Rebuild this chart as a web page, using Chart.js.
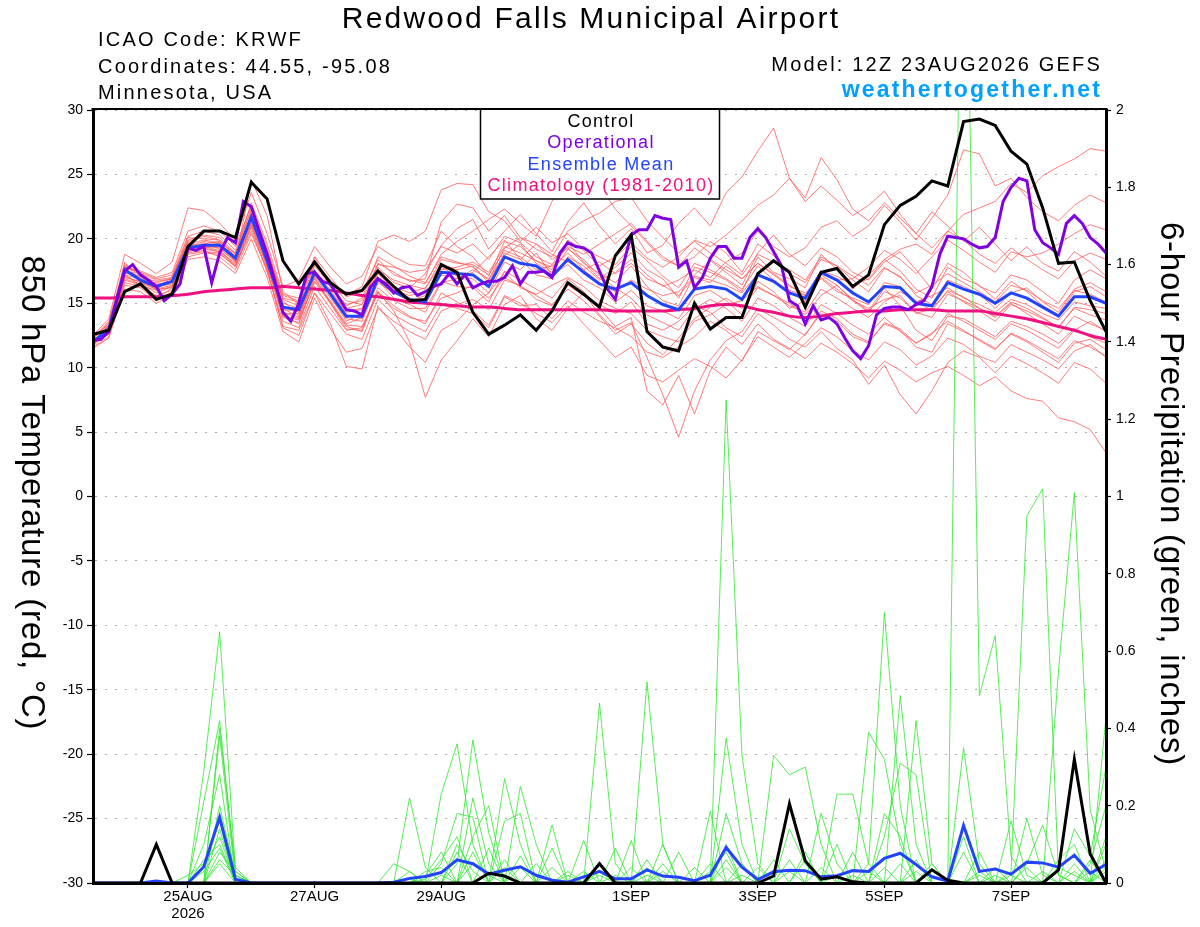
<!DOCTYPE html>
<html>
<head>
<meta charset="utf-8">
<title>Redwood Falls Municipal Airport - GEFS 850 hPa temperature</title>
<script src="https://cdn.jsdelivr.net/npm/chart.js@4.4.1/dist/chart.umd.min.js"></script>
<style>
  html, body { margin: 0; padding: 0; background: #fff; }
  #wrap { width: 1200px; height: 927px; }
</style>
</head>
<body>
<div id="wrap"><canvas id="chart" width="1200" height="927" style="width:1200px;height:927px"></canvas></div>
<script>
const FONT = "'Liberation Sans', Arial, Helvetica, sans-serif";

// x axis is hours since 12Z 23AUG2026
const dayTickHours = [36, 84, 132, 204, 252, 300, 348];
const dayTickLabels = [["25AUG", "2026"], "27AUG", "29AUG", "1SEP", "3SEP", "5SEP", "7SEP"];

// 6-hourly, 850 hPa temperature (C)
const controlTemp = [
  12.6, 12.9, 15.9, 16.5, 15.3, 15.7, 19.4, 20.6, 20.6, 20.1, 24.4, 23.1,
  18.3, 16.5, 18.2, 16.6, 15.7, 16.0, 17.5, 16.3, 15.2, 15.3, 18.0, 17.4,
  14.3, 12.6, 13.3, 14.1, 12.9, 14.4, 16.6, 15.7, 14.7, 18.7, 20.3, 12.8,
  11.6, 11.3, 15.0, 13.0, 13.9, 13.9, 17.3, 18.3, 17.4, 14.7, 17.4, 17.7,
  16.3, 17.2, 21.1, 22.6, 23.3, 24.5, 24.1, 29.1, 29.3, 28.8, 26.8, 25.8,
  22.4, 18.1, 18.2, 15.2, 12.8
];

// operational run is 3-hourly
const operationalTemp = [
  12.1, 12.2, 12.8, 15.2, 17.5, 18.0, 17.2, 16.8, 16.3, 15.2, 15.7, 16.5,
  19.3, 19.1, 19.4, 16.6, 18.9, 20.1, 19.7, 22.9, 22.5, 20.6, 18.8, 16.7,
  14.3, 13.6, 15.0, 17.3, 17.4, 16.7, 16.5, 15.5, 14.5, 14.4, 14.1, 16.2,
  16.9, 16.5, 15.8, 16.2, 16.3, 15.6, 15.9, 16.3, 16.5, 17.3, 16.5, 17.2,
  16.2, 16.5, 16.7, 16.7, 17.0, 17.9, 16.5, 17.4, 17.4, 17.5, 17.0, 18.9,
  19.7, 19.4, 19.3, 18.9, 17.5, 16.1, 15.3, 18.0, 20.3, 20.7, 20.7, 21.8,
  21.6, 21.5, 17.8, 18.3, 16.2, 17.0, 18.5, 19.4, 19.4, 18.5, 18.5, 20.1,
  20.8, 20.1, 19.0, 17.9, 15.2, 14.8, 13.4, 14.8, 13.7, 13.9, 13.4, 12.3,
  11.3, 10.7, 11.7, 14.1, 14.6, 14.7, 14.7, 14.5, 14.9, 15.2, 16.3, 18.8,
  20.2, 20.1, 20.0, 19.6, 19.3, 19.4, 20.1, 22.9, 24.0, 24.7, 24.5, 20.7,
  19.7, 19.3, 18.8, 21.2, 21.8, 21.2, 20.1, 19.6, 18.9
];

const meanTemp = [
  12.0, 13.0, 17.6, 16.8, 16.3, 16.7, 19.3, 19.5, 19.5, 18.5, 21.7, 18.3,
  14.7, 14.5, 17.4, 15.7, 14.0, 14.0, 16.9, 15.9, 15.3, 15.1, 17.4, 17.3,
  17.2, 16.3, 18.6, 18.1, 17.9, 17.1, 18.4, 17.4, 16.5, 16.1, 16.6, 15.6,
  14.9, 14.5, 16.1, 16.3, 16.1, 15.3, 17.2, 16.7, 15.8, 15.4, 17.4, 16.8,
  15.8, 15.1, 16.3, 16.2, 15.0, 14.8, 16.6, 16.1, 15.7, 15.0, 15.8, 15.4,
  14.7, 14.0, 15.5, 15.5, 15.0
];

const climoTemp = [
  15.4, 15.4, 15.5, 15.5, 15.5, 15.6, 15.7, 15.9, 16.0, 16.1, 16.2, 16.2,
  16.3, 16.2, 16.1, 16.0, 15.8, 15.6, 15.5, 15.3, 15.1, 15.0, 14.9, 14.8,
  14.7, 14.7, 14.6, 14.5, 14.5, 14.5, 14.5, 14.5, 14.5, 14.4, 14.4, 14.4,
  14.4, 14.5, 14.6, 14.8, 14.9, 14.8, 14.5, 14.3, 14.0, 13.9, 14.0, 14.2,
  14.3, 14.4, 14.4, 14.5, 14.5, 14.5, 14.4, 14.4, 14.4, 14.2, 14.0, 13.8,
  13.5, 13.2, 12.9, 12.5, 12.2
];

// ensemble members, 850 hPa temperature
const tm01 = [
  12.2, 13.5, 17.9, 17.2, 16.0, 17.1, 19.8, 20.2, 19.9, 18.8, 22.4, 19.0,
  15.2, 14.0, 17.9, 16.4, 14.6, 14.9, 17.8, 16.6, 16.2, 17.3, 19.5, 20.8,
  21.5, 19.2, 20.6, 21.9, 20.4, 19.0, 21.3, 22.8, 21.0, 19.6, 20.8, 18.9,
  19.5, 21.2, 22.4, 21.0, 23.6, 24.8, 26.8, 28.6, 24.7, 22.9, 24.1, 23.0,
  21.8, 22.6, 23.7, 21.9, 20.4, 22.1, 21.0, 19.8, 20.9, 19.6, 18.3, 19.4,
  18.1, 17.5, 19.0, 18.2, 17.1
];
const tm02 = [
  12.0, 12.6, 16.8, 16.4, 15.4, 16.2, 19.0, 19.3, 19.0, 17.9, 20.6, 17.6,
  13.2, 12.9, 15.8, 14.2, 12.6, 12.2, 15.3, 14.1, 13.4, 12.8, 14.9, 14.6,
  14.2, 13.1, 15.5, 14.8, 14.9, 13.8, 15.2, 14.3, 13.6, 13.1, 12.4, 11.2,
  10.8, 11.6, 12.4, 13.6, 12.9, 11.8, 13.4, 12.2, 11.5, 10.7, 11.9, 11.2,
  10.3, 9.2, 10.5, 9.8, 8.9, 9.6, 10.1, 9.4, 8.6, 9.3, 8.2, 7.6,
  7.4, 6.1, 5.8, 5.2, 3.4
];
const tm03 = [
  11.8, 12.9, 17.2, 16.9, 16.5, 16.6, 19.4, 19.8, 19.6, 18.6, 21.9, 18.8,
  14.6, 13.9, 17.0, 15.1, 13.2, 12.8, 15.9, 14.4, 12.0, 7.7, 10.6, 12.1,
  13.8, 12.4, 14.9, 15.6, 13.8, 12.9, 14.6, 15.8, 14.1, 12.9, 13.5, 10.8,
  7.9, 4.6, 8.2, 10.6, 12.1, 12.8, 14.6, 13.9, 13.2, 12.5, 14.4, 13.8,
  12.6, 12.0, 13.4, 12.9, 11.6, 11.2, 13.4, 12.8, 12.2, 11.5, 12.6, 12.0,
  11.2, 10.4, 11.9, 12.2, 11.4
];
const tm04 = [
  12.3, 13.2, 17.6, 17.0, 16.7, 16.9, 19.9, 20.3, 20.1, 18.9, 22.8, 19.6,
  15.7, 15.4, 18.6, 17.0, 15.5, 15.9, 18.4, 17.2, 16.8, 16.5, 18.8, 19.8,
  20.6, 21.5, 22.3, 21.2, 20.2, 22.9, 24.8, 26.5, 24.1, 22.3, 21.0, 19.7,
  18.4, 17.9, 18.6, 19.8, 18.9, 17.4, 19.6, 18.7, 17.3, 16.6, 18.4, 17.9,
  16.8, 15.9, 17.7, 17.1, 15.6, 14.9, 16.8, 16.3, 15.7, 14.6, 15.8, 16.2,
  15.1, 14.3, 16.1, 16.6, 15.9
];
const tm05 = [
  11.6, 12.4, 16.4, 16.2, 15.2, 15.9, 18.9, 19.1, 18.6, 17.6, 20.4, 17.6,
  13.1, 12.5, 15.8, 13.4, 10.1, 9.9, 14.8, 13.2, 11.6, 10.4, 12.9, 13.6,
  14.9, 15.8, 17.4, 16.2, 15.7, 16.4, 17.0, 16.3, 15.2, 14.6, 14.2, 12.9,
  12.4, 12.0, 13.6, 14.1, 14.9, 15.2, 16.3, 15.6, 15.0, 14.1, 15.6, 16.4,
  15.2, 14.6, 15.3, 15.6, 14.2, 14.6, 15.9, 15.1, 14.4, 13.6, 14.9, 14.4,
  13.8, 13.2, 14.6, 14.1, 13.7
];
const tm06 = [
  12.5, 13.8, 18.8, 18.1, 17.3, 18.2, 22.4, 22.2, 21.2, 19.9, 23.6, 20.4,
  16.3, 16.8, 19.4, 17.8, 16.5, 17.1, 19.4, 18.6, 18.0, 17.9, 20.6, 19.4,
  18.6, 17.1, 19.8, 19.4, 18.3, 17.6, 19.7, 18.2, 16.9, 17.8, 18.9, 17.6,
  16.9, 15.4, 17.8, 17.4, 16.8, 15.9, 18.6, 17.4, 16.9, 16.2, 18.8, 17.6,
  16.1, 17.2, 18.4, 17.5, 16.1, 15.4, 17.8, 16.9, 16.4, 15.3, 16.7, 15.9,
  14.8, 14.1, 15.9, 16.3, 15.5
];
const tm07 = [
  12.1, 13.1, 18.2, 16.6, 16.1, 16.4, 19.1, 19.6, 19.8, 18.2, 24.6, 21.8,
  15.9, 14.9, 18.6, 16.2, 14.9, 15.2, 18.1, 17.4, 16.7, 16.9, 21.3, 22.7,
  22.4, 20.6, 21.8, 20.1, 19.6, 18.4, 19.3, 18.1, 17.3, 16.6, 17.9, 16.3,
  15.2, 14.8, 17.2, 18.3, 17.4, 16.4, 18.9, 20.3, 18.8, 17.9, 19.3, 18.6,
  17.4, 16.8, 18.2, 19.0, 17.6, 16.1, 18.1, 17.4, 16.3, 15.8, 17.2, 16.8,
  15.9, 15.0, 16.8, 17.6, 16.9
];
const tm08 = [
  11.9, 12.8, 17.4, 16.9, 16.4, 16.8, 19.5, 19.3, 19.4, 18.4, 21.2, 18.1,
  14.2, 14.2, 17.1, 15.4, 13.8, 13.6, 16.6, 15.8, 15.2, 15.6, 17.8, 17.1,
  16.9, 15.8, 18.2, 17.6, 18.9, 17.2, 18.0, 16.8, 16.2, 15.1, 16.0, 14.8,
  14.4, 13.8, 15.6, 16.0, 15.2, 14.1, 16.7, 15.9, 14.6, 15.2, 17.0, 16.1,
  15.2, 14.3, 15.9, 15.4, 14.3, 13.9, 15.7, 15.2, 14.6, 14.0, 15.1, 14.6,
  13.9, 13.1, 14.7, 14.5, 14.2
];
const tm09 = [
  12.0, 13.3, 17.3, 17.4, 16.2, 16.7, 19.6, 19.9, 19.7, 18.9, 21.6, 18.0,
  14.8, 14.3, 17.2, 15.8, 14.1, 13.8, 16.9, 16.3, 15.8, 16.2, 18.0, 17.6,
  17.9, 16.6, 18.9, 18.4, 17.2, 16.9, 18.6, 17.9, 16.8, 17.4, 18.4, 17.2,
  16.3, 16.8, 17.6, 17.0, 18.2, 18.9, 20.6, 19.4, 18.6, 19.3, 20.9, 21.4,
  20.2, 21.0, 22.6, 21.3, 19.9, 21.6, 23.4, 26.9, 26.6, 24.1, 24.7, 23.2,
  22.1, 21.4, 22.6, 23.4, 22.8
];
const tm10 = [
  11.7, 12.7, 16.9, 16.5, 15.8, 16.3, 18.6, 18.9, 18.8, 17.9, 20.9, 17.4,
  13.6, 13.1, 16.3, 14.6, 12.9, 13.1, 15.9, 14.8, 14.0, 13.4, 15.8, 15.1,
  14.4, 13.3, 15.6, 15.0, 14.2, 13.5, 14.8, 13.4, 12.1, 10.8, 11.6, 9.4,
  8.9, 9.8, 10.7, 10.1, 9.2, 10.6, 12.4, 11.6, 10.8, 11.9, 13.1, 12.4,
  11.3, 10.6, 12.0, 11.4, 10.2, 10.9, 12.3, 11.8, 10.9, 10.4, 11.8, 11.2,
  10.6, 9.9, 11.3, 11.8, 10.8
];
const tm11 = [
  12.4, 13.4, 17.8, 17.5, 17.0, 17.4, 20.6, 21.0, 20.6, 19.4, 22.6, 19.3,
  15.3, 14.8, 18.0, 16.8, 15.6, 16.3, 19.8, 20.3, 19.8, 20.6, 23.8, 24.3,
  24.2, 22.1, 21.4, 19.8, 20.9, 19.7, 20.4, 19.2, 18.6, 18.0, 19.4, 18.3,
  17.1, 16.2, 18.1, 17.6, 16.9, 16.1, 17.9, 16.8, 15.9, 15.1, 17.2, 16.4,
  15.3, 14.4, 16.2, 14.8, 12.9, 12.1, 14.0, 13.8, 13.1, 12.4, 13.6, 13.2,
  12.6, 11.9, 13.0, 12.4, 11.9
];
const tm12 = [
  11.5, 12.3, 16.1, 15.9, 15.0, 15.6, 18.4, 18.6, 18.3, 17.3, 20.0, 17.0,
  12.8, 12.0, 15.4, 13.0, 11.2, 11.5, 14.6, 13.6, 12.8, 12.2, 14.4, 14.9,
  15.3, 14.5, 16.8, 16.4, 15.3, 14.8, 16.4, 15.6, 14.9, 14.2, 15.1, 13.4,
  12.9, 13.6, 14.8, 14.3, 13.1, 12.4, 14.2, 13.3, 12.2, 11.6, 12.8, 11.5,
  10.6, 8.7, 10.2, 7.9, 6.4, 8.2, 10.4, 11.3, 10.8, 9.6, 10.9, 10.3,
  9.6, 8.8, 10.4, 9.9, 8.8
];
const tm13 = [
  12.2, 12.9, 17.7, 16.7, 16.6, 16.9, 19.7, 19.4, 19.6, 18.7, 21.8, 18.6,
  15.0, 14.6, 17.5, 16.0, 14.4, 14.6, 17.3, 16.1, 15.4, 15.0, 17.6, 17.8,
  18.2, 17.4, 19.4, 18.9, 18.3, 17.8, 18.9, 17.6, 16.6, 15.9, 16.8, 16.1,
  15.6, 15.9, 17.1, 16.8, 16.4, 15.8, 17.3, 16.6, 16.0, 15.6, 17.5, 17.1,
  16.4, 16.9, 18.4, 19.2, 19.6, 18.8, 20.6, 21.9, 22.4, 22.9, 24.3, 23.6,
  24.9, 25.6, 26.2, 27.0, 26.8
];
const tm14 = [
  12.0, 13.0, 17.5, 17.1, 16.3, 16.5, 19.2, 19.7, 19.2, 18.3, 21.4, 18.4,
  14.5, 14.4, 17.6, 15.6, 13.6, 14.2, 17.5, 16.0, 15.6, 15.9, 17.2, 16.9,
  17.4, 18.6, 19.9, 18.4, 19.6, 18.8, 18.2, 17.6, 18.2, 17.3, 18.1, 16.9,
  16.4, 15.6, 17.0, 16.6, 17.9, 16.9, 18.1, 17.2, 16.3, 15.8, 16.9, 15.9,
  15.4, 14.9, 16.6, 16.3, 15.1, 15.6, 16.2, 15.4, 14.9, 14.3, 15.3, 14.9,
  14.2, 13.7, 15.1, 14.8, 14.6
];
const tm15 = [
  12.3, 13.6, 18.0, 17.3, 16.8, 17.0, 20.1, 20.0, 19.9, 18.6, 22.0, 18.9,
  15.4, 15.1, 18.3, 16.6, 15.2, 14.9, 18.0, 17.8, 17.4, 17.6, 19.4, 18.9,
  19.6, 18.4, 20.2, 19.7, 18.6, 18.0, 19.9, 19.1, 17.9, 18.6, 19.7, 18.5,
  17.8, 18.6, 19.9, 19.4, 20.3, 21.4, 22.6, 23.4, 24.7, 23.2, 26.3, 24.6,
  22.3, 21.4, 22.8, 21.6, 20.4, 19.3, 20.6, 19.9, 18.8, 18.1, 19.3, 18.4,
  17.6, 16.9, 18.3, 18.9, 18.4
];
const tm16 = [
  11.9, 12.6, 16.6, 16.3, 15.6, 16.0, 18.8, 19.0, 18.9, 17.8, 21.0, 17.9,
  13.9, 13.5, 16.9, 15.0, 13.0, 12.9, 16.2, 15.2, 14.6, 14.6, 16.7, 16.3,
  16.2, 15.1, 17.5, 16.8, 16.1, 15.4, 16.9, 15.9, 14.6, 13.2, 13.9, 8.2,
  7.1, 9.4, 6.4, 9.8, 11.6, 10.5, 12.8, 12.1, 11.4, 12.6, 14.2, 13.6,
  12.4, 11.9, 13.5, 13.0, 11.9, 12.6, 14.2, 13.6, 12.9, 12.2, 13.4, 12.9,
  12.2, 11.5, 12.9, 13.6, 12.8
];
const tm17 = [
  12.1, 13.2, 17.0, 16.7, 16.2, 16.6, 19.6, 19.2, 19.0, 18.1, 21.3, 18.5,
  14.0, 13.7, 16.6, 15.2, 13.4, 13.9, 16.8, 15.4, 14.9, 14.3, 16.6, 16.9,
  17.6, 16.9, 18.7, 19.6, 18.1, 17.4, 19.2, 18.4, 17.1, 16.2, 15.4, 14.1,
  13.5, 12.9, 14.6, 15.3, 14.6, 13.6, 15.4, 14.8, 13.9, 13.2, 14.9, 14.2,
  13.3, 12.6, 13.9, 12.8, 11.9, 12.7, 13.6, 12.9, 12.1, 11.4, 12.7, 12.1,
  11.4, 10.7, 12.1, 11.6, 10.9
];
const tm18 = [
  11.8, 12.9, 17.1, 16.6, 16.1, 16.2, 19.1, 19.5, 19.3, 18.2, 21.6, 18.2,
  14.3, 13.8, 17.3, 15.9, 14.3, 14.5, 17.6, 16.8, 16.4, 16.1, 18.4, 18.1,
  18.0, 17.2, 19.1, 18.6, 17.6, 17.9, 19.4, 18.8, 19.6, 20.4, 21.2, 19.8,
  18.6, 17.9, 19.3, 18.4, 17.6, 16.9, 18.1, 17.3, 16.4, 15.6, 17.3, 16.8,
  16.9, 17.8, 19.1, 18.4, 17.3, 18.6, 19.9, 19.1, 18.2, 17.4, 19.0, 18.6,
  18.9, 19.6, 20.4, 21.1, 20.7
];
const tm19 = [
  12.2, 12.8, 17.2, 16.4, 16.0, 16.3, 19.0, 19.4, 19.1, 18.0, 21.1, 17.8,
  14.1, 13.4, 16.7, 15.0, 13.3, 13.2, 15.8, 14.6, 13.9, 13.6, 15.4, 15.8,
  16.4, 15.4, 17.0, 16.3, 15.6, 14.9, 16.1, 15.2, 14.0, 12.6, 13.4, 11.9,
  11.0, 12.3, 13.8, 14.7, 15.4, 14.6, 16.2, 15.6, 14.8, 14.3, 16.1, 15.4,
  14.6, 13.9, 15.1, 15.9, 15.2, 14.4, 16.0, 15.5, 14.6, 13.9, 15.0, 14.2,
  13.4, 12.6, 14.0, 13.4, 12.9
];
const tm20 = [
  12.4, 13.3, 17.8, 17.4, 16.9, 17.2, 20.2, 20.6, 20.3, 19.1, 22.2, 19.1,
  15.6, 15.2, 18.2, 16.4, 14.8, 15.4, 18.6, 17.9, 17.1, 16.6, 18.6, 18.2,
  17.8, 16.8, 19.3, 20.1, 19.2, 18.6, 20.6, 21.4, 22.0, 22.9, 23.2, 21.4,
  20.1, 18.9, 19.8, 18.9, 18.1, 17.2, 18.8, 18.2, 17.6, 16.8, 18.6, 17.9,
  17.1, 16.4, 17.8, 17.0, 15.8, 16.4, 17.3, 16.6, 15.9, 15.1, 16.4, 16.0,
  15.2, 14.6, 16.0, 15.7, 15.1
];

// 6-hour precipitation (inches)
const controlPrecip = [
  0, 0, 0, 0, 0.10, 0, 0, 0, 0, 0, 0, 0, 0,
  0, 0, 0, 0, 0, 0, 0, 0, 0, 0, 0, 0, 0.025,
  0.018, 0, 0, 0, 0, 0, 0.05, 0, 0, 0, 0, 0, 0,
  0, 0, 0, 0, 0.018, 0.205, 0.057, 0.01, 0.016, 0.003, 0, 0, 0,
  0, 0.034, 0.007, 0, 0, 0, 0, 0, 0, 0.034, 0.32, 0.075, 0
];
const meanPrecip = [
  0, 0, 0, 0, 0.005, 0, 0, 0.042, 0.17, 0.01, 0, 0, 0,
  0, 0, 0, 0, 0, 0, 0.002, 0.012, 0.017, 0.027, 0.06, 0.05, 0.023,
  0.033, 0.042, 0.02, 0.007, 0.002, 0.016, 0.03, 0.011, 0.011, 0.034, 0.018, 0.015, 0.006,
  0.02, 0.092, 0.041, 0.009, 0.029, 0.033, 0.032, 0.016, 0.019, 0.032, 0.03, 0.064, 0.077,
  0.048, 0.016, 0.005, 0.149, 0.03, 0.036, 0.023, 0.054, 0.052, 0.041, 0.072, 0.025, 0.048
];

// ensemble members, 6-hour precipitation
const gm01 = [
  0, 0, 0, 0, 0, 0, 0, 0.29, 0.65, 0.03, 0, 0, 0,
  0, 0, 0, 0, 0, 0, 0, 0, 0, 0, 0.05, 0.37, 0.13,
  0, 0, 0, 0, 0, 0, 0.465, 0.05, 0, 0, 0, 0, 0,
  0, 0.18, 0.05, 0, 0, 0, 0, 0, 0, 0, 0.05, 0.70, 0.2,
  0, 0, 0, 0, 0, 0, 0, 0.05, 0.15, 0.02, 0, 0, 0.1
];
const gm02 = [
  0, 0, 0, 0, 0, 0, 0, 0.21, 0.42, 0.02, 0, 0, 0,
  0, 0, 0, 0, 0, 0, 0, 0, 0, 0.23, 0.36, 0.1, 0,
  0, 0, 0, 0, 0, 0, 0, 0, 0, 0.52, 0.1, 0, 0,
  0, 1.25, 0.33, 0.05, 0, 0, 0, 0, 0, 0, 0, 0, 0.485,
  0.1, 0, 0, 3.0, 0.485, 0.64, 0.07, 0, 0, 0, 0, 0, 0.03
];
const gm03 = [
  0, 0, 0, 0, 0, 0, 0, 0, 0.40, 0.04, 0, 0, 0,
  0, 0, 0, 0, 0, 0, 0, 0.22, 0.04, 0, 0, 0, 0,
  0.27, 0.1, 0, 0, 0, 0, 0, 0, 0, 0, 0, 0, 0,
  0.185, 0, 0, 0, 0.33, 0.28, 0.30, 0.1, 0, 0, 0, 0, 0,
  0.42, 0.05, 0, 0, 0, 0, 0, 0, 0, 0.55, 1.01, 0.19, 0.03
];
const gm04 = [
  0, 0, 0, 0, 0, 0, 0, 0, 0.38, 0.01, 0, 0, 0,
  0, 0, 0, 0, 0, 0, 0.05, 0.03, 0, 0, 0, 0.22, 0.05,
  0, 0.25, 0.1, 0, 0, 0, 0, 0, 0.11, 0, 0, 0, 0,
  0, 0, 0, 0, 0, 0, 0, 0, 0, 0, 0.39, 0.32, 0.1,
  0, 0, 0, 0, 0, 0, 0.03, 0.95, 1.02, 0.02, 0, 0, 0
];
const gm05 = [
  0, 0, 0, 0, 0, 0, 0, 0.1, 0.28, 0, 0, 0, 0,
  0, 0, 0, 0, 0, 0, 0, 0, 0, 0.05, 0.18, 0.17, 0,
  0, 0, 0, 0.15, 0, 0.11, 0, 0, 0, 0, 0, 0.08, 0,
  0, 0.375, 0.1, 0, 0, 0, 0, 0, 0.23, 0.23, 0.05, 0, 0,
  0, 0, 0, 0.35, 0.05, 0, 0, 0, 0, 0, 0, 0, 0.43
];
const gm06 = [
  0, 0, 0, 0, 0, 0, 0, 0, 0.2, 0.02, 0, 0, 0,
  0, 0, 0, 0, 0, 0, 0, 0, 0.02, 0.08, 0, 0, 0,
  0.16, 0.18, 0, 0, 0, 0, 0, 0.09, 0, 0, 0.1, 0, 0,
  0, 0, 0, 0, 0, 0.14, 0.05, 0, 0, 0, 0, 0.12, 0.31,
  0.28, 0, 0, 0.12, 0, 0, 0, 0, 0, 0, 0.14, 0.07, 0.30
];
const gm07 = [
  0, 0, 0, 0, 0, 0, 0, 0, 0.14, 0, 0, 0, 0,
  0, 0, 0, 0, 0, 0, 0, 0, 0, 0, 0, 0.12, 0.2,
  0, 0, 0, 0, 0.03, 0, 0, 0, 0, 0, 0, 0, 0.04,
  0, 0.06, 0, 0, 0, 0, 0, 0.18, 0.05, 0, 0, 0, 0,
  0, 0.05, 0, 0, 0, 0.04, 0, 0, 0, 0, 0, 0.05, 0.2
];
const gm08 = [
  0, 0, 0, 0, 0, 0, 0, 0.06, 0.1, 0, 0, 0, 0,
  0, 0, 0, 0, 0, 0, 0, 0, 0, 0, 0.08, 0, 0,
  0, 0, 0.05, 0, 0, 0, 0, 0, 0, 0.06, 0, 0, 0,
  0, 0, 0, 0.04, 0, 0, 0, 0, 0, 0.08, 0, 0, 0,
  0, 0, 0, 0, 0.03, 0, 0, 0, 0, 0.04, 0.02, 0, 0
];
const gm09 = [
  0, 0, 0, 0, 0, 0, 0, 0, 0.06, 0.02, 0, 0, 0,
  0, 0, 0, 0, 0, 0, 0, 0.01, 0, 0, 0, 0.05, 0.02,
  0, 0, 0, 0.04, 0, 0, 0.03, 0, 0, 0, 0, 0, 0,
  0.05, 0, 0.02, 0, 0, 0, 0.06, 0, 0, 0, 0, 0.04, 0,
  0, 0, 0, 0, 0, 0, 0, 0.167, 0.02, 0, 0, 0.03, 0
];
const gm10 = [
  0, 0, 0, 0, 0, 0, 0, 0.04, 0.12, 0, 0, 0, 0,
  0, 0, 0, 0, 0, 0, 0, 0, 0, 0.02, 0, 0, 0,
  0.06, 0, 0, 0, 0, 0.03, 0, 0, 0.04, 0, 0, 0, 0,
  0, 0.1, 0, 0, 0, 0.03, 0, 0, 0, 0, 0.03, 0, 0,
  0.06, 0, 0, 0, 0, 0, 0.16, 0.02, 0, 0, 0, 0, 0.06
];
const gm11 = [
  0, 0, 0, 0, 0, 0, 0, 0, 0.08, 0.03, 0, 0, 0,
  0, 0, 0, 0, 0, 0, 0, 0, 0, 0, 0.1, 0.03, 0,
  0, 0.04, 0, 0, 0, 0, 0, 0.02, 0, 0, 0.03, 0, 0,
  0, 0, 0, 0, 0.06, 0, 0, 0, 0.02, 0, 0, 0, 0.05,
  0, 0, 0, 0, 0.02, 0, 0, 0, 0.03, 0, 0, 0.06, 0
];
const gm12 = [
  0, 0, 0, 0, 0, 0, 0.02, 0.05, 0.16, 0, 0, 0, 0,
  0, 0, 0, 0, 0, 0, 0, 0, 0.03, 0.04, 0, 0, 0.09,
  0, 0, 0, 0, 0.02, 0, 0, 0, 0, 0.04, 0, 0, 0,
  0, 0.04, 0, 0, 0, 0, 0.08, 0, 0, 0.02, 0, 0, 0,
  0, 0, 0, 0, 0, 0.02, 0, 0, 0, 0, 0.05, 0, 0.04
];
const gm13 = [
  0, 0, 0, 0, 0, 0, 0, 0.03, 0.09, 0, 0, 0, 0,
  0, 0, 0, 0, 0, 0, 0, 0, 0.01, 0.06, 0.12, 0, 0,
  0, 0.07, 0, 0, 0, 0, 0.02, 0, 0, 0, 0.05, 0, 0,
  0.03, 0.08, 0, 0, 0, 0, 0, 0.04, 0, 0, 0, 0.18, 0.12,
  0, 0, 0, 0.08, 0, 0, 0, 0.04, 0, 0, 0.03, 0, 0.12
];
const gm14 = [
  0, 0, 0, 0, 0, 0, 0, 0, 0.05, 0, 0, 0, 0,
  0, 0, 0, 0, 0, 0, 0, 0.03, 0, 0, 0, 0.08, 0,
  0.04, 0, 0, 0.09, 0, 0, 0, 0, 0, 0.02, 0, 0, 0,
  0, 0, 0.05, 0, 0, 0.06, 0, 0, 0.1, 0, 0, 0, 0,
  0.03, 0, 0, 0, 0.08, 0, 0.02, 0, 0, 0.06, 0.1, 0, 0
];

const tempMembers = [tm01, tm02, tm03, tm04, tm05, tm06, tm07, tm08, tm09, tm10,
  tm11, tm12, tm13, tm14, tm15, tm16, tm17, tm18, tm19, tm20];
const precipMembers = [gm01, gm02, gm03, gm04, gm05, gm06, gm07, gm08, gm09, gm10,
  gm11, gm12, gm13, gm14];

function toPoints(values, stepHours) {
  return values.map((v, i) => ({ x: i * stepHours, y: v }));
}

const datasets = [];

// order: lower numbers are drawn on top
datasets.push({ data: toPoints(controlTemp, 6), borderColor: "#000000", borderWidth: 3, yAxisID: "yTemp", order: 0 });
datasets.push({ data: toPoints(operationalTemp, 3), borderColor: "#7f00e0", borderWidth: 3, yAxisID: "yTemp", order: 1 });
datasets.push({ data: toPoints(meanTemp, 6), borderColor: "#2244ff", borderWidth: 3, yAxisID: "yTemp", order: 2 });
datasets.push({ data: toPoints(climoTemp, 6), borderColor: "#ee1180", borderWidth: 3, yAxisID: "yTemp", order: 3, cubicInterpolationMode: "monotone" });
datasets.push({ data: toPoints(controlPrecip, 6), borderColor: "#000000", borderWidth: 3, yAxisID: "yPrecip", order: 4 });
datasets.push({ data: toPoints(meanPrecip, 6), borderColor: "#2244ff", borderWidth: 3, yAxisID: "yPrecip", order: 5 });

precipMembers.forEach((m) => {
  datasets.push({ data: toPoints(m, 6), borderColor: "#2ee62e", borderWidth: 0.8, yAxisID: "yPrecip", order: 10 });
});
tempMembers.forEach((m) => {
  datasets.push({ data: toPoints(m, 6), borderColor: "#ff5a5a", borderWidth: 0.8, yAxisID: "yTemp", order: 11 });
});

// titles, header text, legend box and top frame line
const decorPlugin = {
  id: "decor",
  afterDraw(chart) {
    const ctx = chart.ctx;
    const area = chart.chartArea;

    ctx.save();
    ctx.fillStyle = "#000";
    ctx.textBaseline = "alphabetic";

    // top frame
    ctx.strokeStyle = "#000";
    ctx.lineWidth = 2;
    ctx.beginPath();
    ctx.moveTo(area.left - 1.5, area.top - 1);
    ctx.lineTo(area.right + 1.5, area.top - 1);
    ctx.stroke();

    ctx.letterSpacing = "2.2px";
    ctx.font = "30px " + FONT;
    ctx.textAlign = "center";
    ctx.fillText("Redwood Falls Municipal Airport", 591, 28);

    ctx.font = "20px " + FONT;
    ctx.textAlign = "left";
    ctx.fillText("ICAO Code: KRWF", 98, 46);
    ctx.fillText("Coordinates: 44.55, -95.08", 98, 72.5);
    ctx.fillText("Minnesota, USA", 98, 99);

    ctx.textAlign = "right";
    ctx.fillText("Model: 12Z 23AUG2026 GEFS", 1102, 70.5);
    ctx.font = "bold 23px " + FONT;
    ctx.fillStyle = "#00a0ff";
    ctx.fillText("weathertogether.net", 1102, 96.5);

    // legend box
    ctx.fillStyle = "#fff";
    ctx.fillRect(480, area.top, 240, 89);
    ctx.strokeStyle = "#000";
    ctx.lineWidth = 1.5;
    ctx.strokeRect(480.5, area.top - 1, 239, 90);

    ctx.letterSpacing = "1.3px";
    ctx.font = "18px " + FONT;
    ctx.textAlign = "center";
    ctx.fillStyle = "#000";
    ctx.fillText("Control", 601, 126.5);
    ctx.fillStyle = "#7f00e0";
    ctx.fillText("Operational", 601, 148);
    ctx.fillStyle = "#2244ff";
    ctx.fillText("Ensemble Mean", 601, 169.5);
    ctx.fillStyle = "#ee1180";
    ctx.fillText("Climatology (1981-2010)", 601, 191);

    // axis titles, both read top to bottom
    ctx.letterSpacing = "0.8px";
    ctx.fillStyle = "#000";
    ctx.font = "33px " + FONT;
    ctx.textAlign = "center";

    ctx.save();
    ctx.translate(22, 493);
    ctx.rotate(Math.PI / 2);
    ctx.fillText("850 hPa Temperature (red, \u00B0C)", 0, 0);
    ctx.restore();

    ctx.save();
    ctx.translate(1161, 494);
    ctx.rotate(Math.PI / 2);
    ctx.fillText("6-hour Precipitation (green, inches)", 0, 0);
    ctx.restore();

    ctx.restore();
  },
};

new Chart(document.getElementById("chart"), {
  type: "line",
  data: { datasets: datasets },
  options: {
    responsive: false,
    animation: false,
    layout: { padding: { top: 110, left: 0, right: 0, bottom: 0 } },
    elements: {
      point: { radius: 0, hoverRadius: 0 },
      line: { tension: 0, fill: false },
    },
    plugins: {
      legend: { display: false },
      tooltip: { enabled: false },
      title: { display: false },
    },
    scales: {
      x: {
        type: "linear",
        min: 0,
        max: 384,
        afterBuildTicks: (scale) => {
          scale.ticks = dayTickHours.map((v) => ({ value: v }));
        },
        afterFit: (scale) => {
          scale.height = 44;
        },
        ticks: {
          autoSkip: false,
          maxRotation: 0,
          padding: 1,
          color: "#000",
          font: { family: FONT, size: 15, lineHeight: 1.1 },
          callback: (value, index) => dayTickLabels[index],
        },
        grid: { drawOnChartArea: false, drawTicks: true, tickLength: 5, tickColor: "#000", tickWidth: 1.2 },
        border: { display: true, color: "#000", width: 3, z: 1 },
      },
      yTemp: {
        type: "linear",
        position: "left",
        min: -30,
        max: 30,
        afterFit: (scale) => {
          scale.width = 93;
        },
        ticks: { stepSize: 5, padding: 4, color: "#000", font: { family: FONT, size: 14 } },
        grid: { color: "#aaaaaa", lineWidth: 1, tickColor: "#000", tickLength: 6, tickWidth: 1.2 },
        border: { display: true, color: "#000", width: 3, dash: [2, 8], z: 1 },
      },
      yPrecip: {
        type: "linear",
        position: "right",
        min: 0,
        max: 2,
        afterFit: (scale) => {
          scale.width = 94;
        },
        ticks: {
          stepSize: 0.2,
          padding: 5,
          color: "#000",
          font: { family: FONT, size: 14 },
          callback: (value) => String(Math.round(value * 10) / 10),
        },
        grid: { drawOnChartArea: false, tickColor: "#000", tickLength: 5, tickWidth: 1.2 },
        border: { display: true, color: "#000", width: 3, z: 1 },
      },
    },
  },
  plugins: [decorPlugin],
});
</script>
</body>
</html>
